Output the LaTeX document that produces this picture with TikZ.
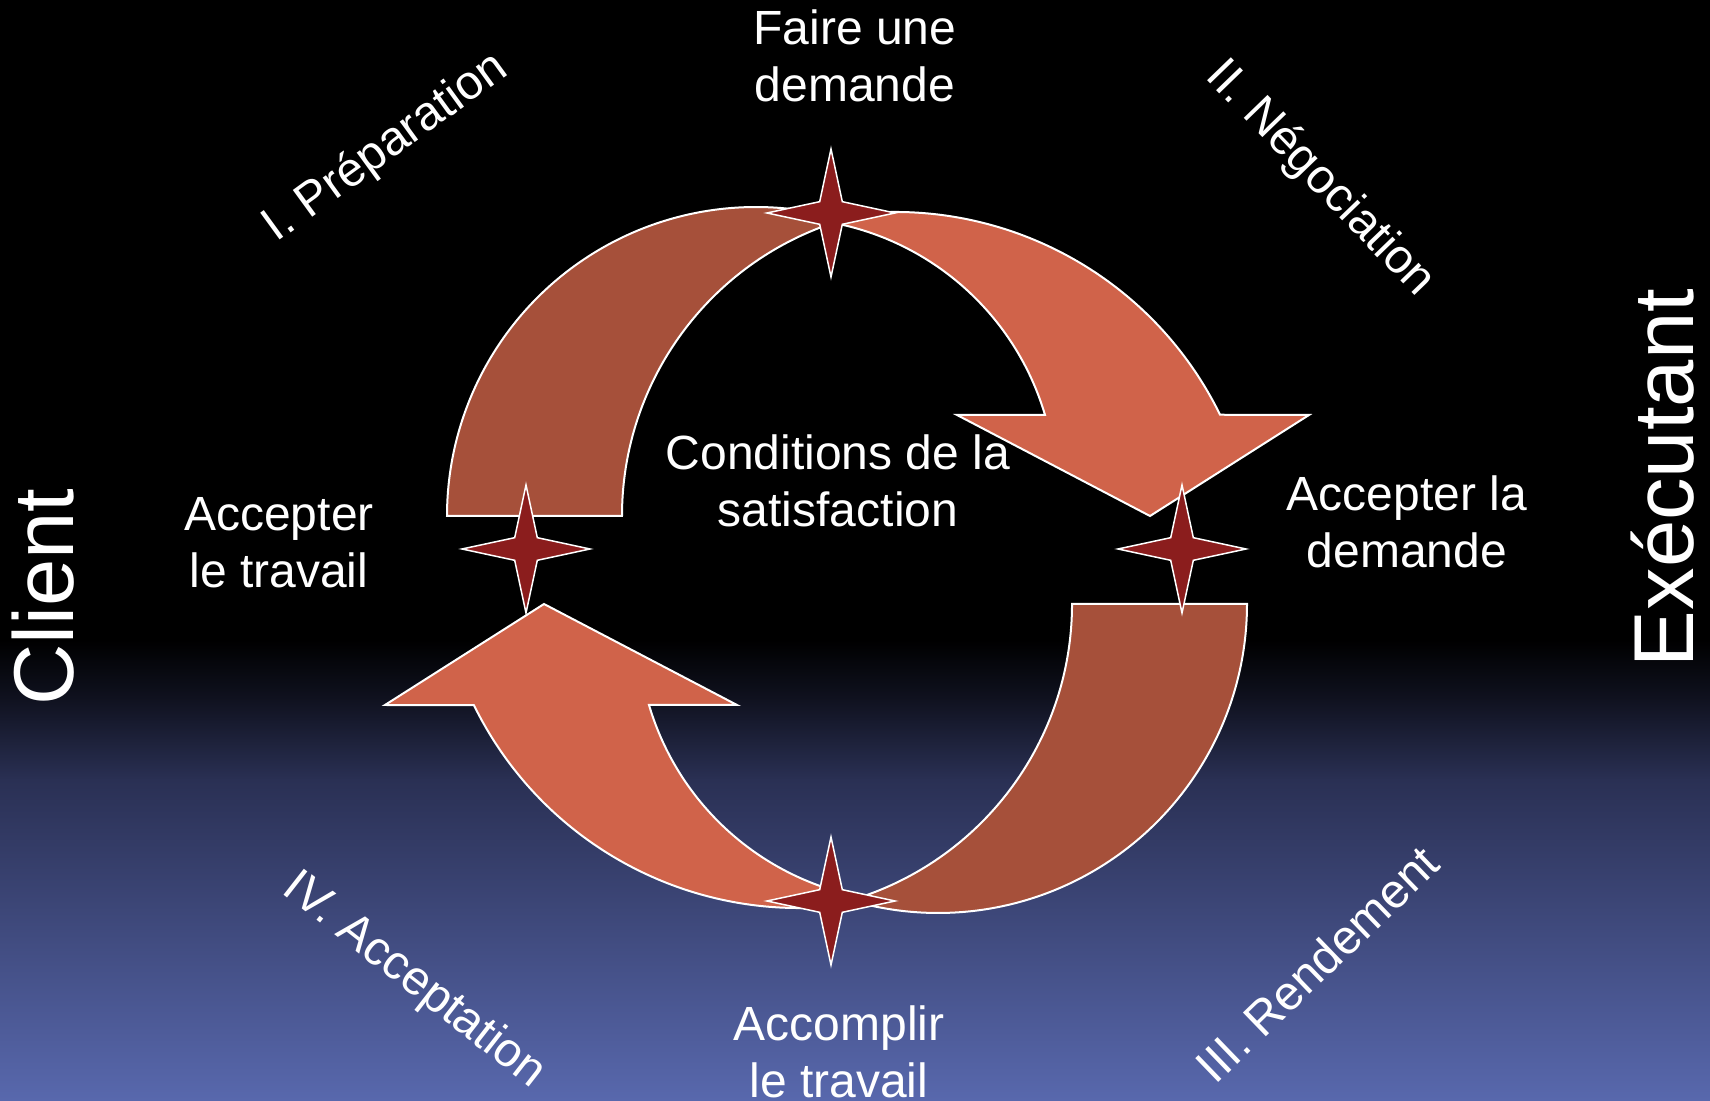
\documentclass[tikz,border=0pt]{standalone}
\usepackage{fontspec}
\setmainfont{Liberation Sans}
\usetikzlibrary{shapes.geometric}
\definecolor{darkpiece}{RGB}{166,80,58}
\definecolor{lightpiece}{RGB}{208,99,74}
\definecolor{starred}{RGB}{139,29,29}
\definecolor{bgdark}{RGB}{16,18,32}
\definecolor{bgmid}{RGB}{42,48,84}
\definecolor{bgbot}{RGB}{88,104,173}
\begin{document}
\begin{tikzpicture}[x=1pt,y=1pt,
  piece/.style={draw=white, line width=2pt, line join=miter},
  starnode/.style={star, star points=4, star point ratio=4, minimum size=128pt, inner sep=0pt, draw=white, line width=1.5pt, fill=starred},
  lbl/.style={text=white, font=\fontsize{48}{57}\selectfont, align=center, inner sep=0pt},
  side/.style={text=white, font=\fontsize{85}{100}\selectfont, inner sep=0pt, rotate=90, anchor=base}]
\useasboundingbox (0,0) rectangle (1710,1100);
% background
\fill[black] (0,0) rectangle (1710,1100);
\shade[top color=black,bottom color=bgdark] (0,399.5) rectangle (1710,460);
\shade[top color=bgdark,bottom color=bgmid] (0,319.5) rectangle (1710,400);
\shade[top color=bgmid,bottom color=bgbot] (0,0) rectangle (1710,320);
% upper pieces
\path[piece, fill=darkpiece] (447,584) arc[start angle=180, end angle=73.55, radius=309]
   arc[start angle=106.45, end angle=180, radius=309] -- cycle;
\path[piece, fill=lightpiece] (831,882.3) arc[start angle=100.18, end angle=26.1, radius=362]
   -- (1309,685) -- (1150,584) -- (957,685) -- (1045,685)
   arc[start angle=16.46, end angle=79.52, radius=275] -- cycle;
% lower pieces (point symmetric)
\begin{scope}[rotate around={180:(847,540)}]
\path[piece, fill=darkpiece] (447,584) arc[start angle=180, end angle=73.55, radius=309]
   arc[start angle=106.45, end angle=180, radius=309] -- cycle;
\path[piece, fill=lightpiece] (831,882.3) arc[start angle=100.18, end angle=26.1, radius=362]
   -- (1309,685) -- (1150,584) -- (957,685) -- (1045,685)
   arc[start angle=16.46, end angle=79.52, radius=275] -- cycle;
\end{scope}
% stars
\node[starnode] (stop) at (831,887) {};
\node[starnode] (sleft) at (526,551) {};
\node[starnode] (sright) at (1182,551) {};
\node[starnode] (sbot) at (831,199) {};
% labels (base = baseline of last line)
\node[lbl, anchor=base] (faire) at (855,998) {Faire une\\demande};
\node[lbl, anchor=base] (cond) at (838,573) {Conditions de la\\satisfaction};
\node[lbl, anchor=base] (acctrav) at (279,512) {Accepter\\le travail};
\node[lbl, anchor=base] (accdem) at (1407,532) {Accepter la\\demande};
\node[lbl, anchor=base] (accomp) at (839,3) {Accomplir\\le travail};
\node[lbl, rotate=36] (prep) at (386,952) {I. Préparation};
\node[lbl, rotate=-46] (nego) at (1320,921) {II. Négociation};
\node[lbl, rotate=44] (rend) at (1317,136) {III. Rendement};
\node[lbl, rotate=-38] (acce) at (414,119) {IV. Acceptation};
\node[side] (client) at (73,503) {Client};
\node[side] (exec) at (1693,622) {Exécutant};
\end{tikzpicture}
\end{document}
